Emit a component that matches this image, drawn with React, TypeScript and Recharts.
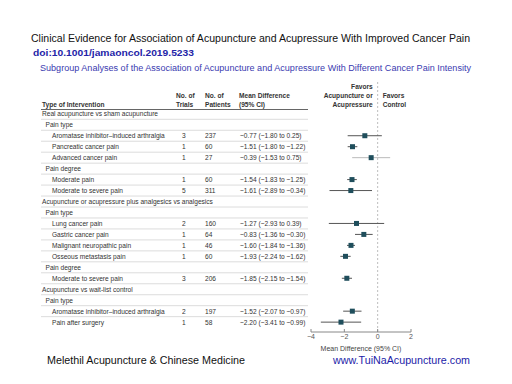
import React from 'react';
import { ScatterChart, Scatter, XAxis, YAxis, ErrorBar, ReferenceLine, Customized } from 'recharts';

const labels = [
  'Real acupuncture vs sham acupuncture',
  'Pain type',
  'Aromatase inhibitor–induced arthralgia',
  'Pancreatic cancer pain',
  'Advanced cancer pain',
  'Pain degree',
  'Moderate pain',
  'Moderate to severe pain',
  'Acupuncture or acupressure plus analgesics vs analgesics',
  'Pain type',
  'Lung cancer pain',
  'Gastric cancer pain',
  'Malignant neuropathic pain',
  'Osseous metastasis pain',
  'Pain degree',
  'Moderate to severe pain',
  'Acupuncture vs wait-list control',
  'Pain type',
  'Aromatase inhibitor–induced arthralgia',
  'Pain after surgery',
];
const levels = [0, 1, 2, 2, 2, 1, 2, 2, 0, 1, 2, 2, 2, 2, 1, 2, 0, 1, 2, 2];
const trials = [null, null, 3, 1, 1, null, 1, 5, null, null, 2, 1, 1, 1, null, 3, null, null, 2, 1];
const patients = [null, null, 237, 60, 27, null, 60, 311, null, null, 160, 64, 46, 60, null, 206, null, null, 197, 58];
const means = [null, null, -0.77, -1.51, -0.39, null, -1.54, -1.61, null, null, -1.27, -0.83, -1.6, -1.93, null, -1.85, null, null, -1.52, -2.2];
const lows = [null, null, -1.8, -1.8, -1.53, null, -1.83, -2.89, null, null, -2.93, -1.36, -1.84, -2.24, null, -2.15, null, null, -2.07, -3.41];
const highs = [null, null, 0.25, -1.22, 0.75, null, -1.25, -0.34, null, null, 0.39, -0.3, -1.36, -1.62, null, -1.54, null, null, -0.97, -0.99];
const lightRows = [4];
const xTicks = [-4, -2, 0, 2];

const FONT = 'Liberation Sans, Arial, sans-serif';
const fmt = (v: number) => (v < 0 ? '−' : '') + Math.abs(v).toFixed(2);

const rows = labels.map((_, i) => i);
const tableRows = rows.map((i) => ({ y: i, x: -4 }));
const points = rows
  .filter((i) => means[i] !== null)
  .map((i) => ({
    y: i,
    x: means[i] as number,
    err: [(means[i] as number) - (lows[i] as number), (highs[i] as number) - (means[i] as number)],
    light: lightRows.includes(i),
  }));
const darkPoints = points.filter((p) => !p.light);
const lightPoints = points.filter((p) => p.light);

const indents = [42, 45.5, 52];

const T = ({ x, y, children, weight, anchor, fill }: any) => (
  <g transform={`translate(${x},${y}) scale(0.88,1)`}>
    <text x={0} y={0} dy="0.35em" fontSize={7.5} fontFamily={FONT} fill={fill || '#333'} fontWeight={weight || 'normal'} textAnchor={anchor || 'start'}>
      {children}
    </text>
  </g>
);

const RowShape = (props: any) => {
  const y = props.cy;
  const i = props.payload.y as number;
  return (
    <g>
      {i < labels.length - 1 && <line x1={41} x2={308} y1={y + 5.5} y2={y + 5.5} stroke="#dcdcdc" strokeWidth={1} />}
      <T x={indents[levels[i]]} y={y}>{labels[i]}</T>
      {trials[i] !== null && <T x={182} y={y}>{String(trials[i])}</T>}
      {patients[i] !== null && <T x={205} y={y}>{String(patients[i])}</T>}
      {means[i] !== null && (
        <T x={240} y={y}>{`${fmt(means[i] as number)} (${fmt(lows[i] as number)} to ${fmt(highs[i] as number)})`}</T>
      )}
    </g>
  );
};

const XTick = (props: any) => {
  const { x, y, payload } = props;
  return (
    <g>
      <line x1={x} x2={x} y1={y - 3} y2={y} stroke="#888" />
      <text x={x} y={y + 7} fontSize={7} fontFamily={FONT} fill="#555" textAnchor="middle">
        {payload.value < 0 ? '−' + Math.abs(payload.value) : payload.value}
      </text>
    </g>
  );
};

const Square = (props: any) => (
  <rect x={props.cx - 2.5} y={props.cy - 2.5} width={5} height={5} fill="#1f4e5c" />
);
const Nothing = () => <g />;

const Titles = () => (
  <g fontFamily={FONT}>
    <text x={31} y={38.3} dy="0.35em" fontSize={10} fill="#111" textLength={439} lengthAdjust="spacingAndGlyphs">
      Clinical Evidence for Association  of Acupuncture and Acupressure With Improved Cancer Pain
    </text>
    <text x={33} y={52.3} dy="0.35em" fontSize={9.5} fontWeight="bold" fill="#2424a8" textLength={161} lengthAdjust="spacingAndGlyphs">
      doi:10.1001/jamaoncol.2019.5233
    </text>
    <text x={40} y={68.3} dy="0.35em" fontSize={8.3} fill="#3a3ab0" textLength={431} lengthAdjust="spacingAndGlyphs">
      Subgroup Analyses of the Association of Acupuncture and Acupressure With Different Cancer Pain Intensity
    </text>
    <text x={47} y={360} dy="0.35em" fontSize={10.5} fill="#111" textLength={198} lengthAdjust="spacingAndGlyphs">
      Melethil Acupuncture  &amp; Chinese Medicine
    </text>
    <text x={333} y={360} dy="0.35em" fontSize={10.5} fill="#1c1ca8" textLength={137} lengthAdjust="spacingAndGlyphs">
      www.TuiNaAcupuncture.com
    </text>
    <T x={42} y={104} weight="bold">Type of Intervention</T>
    <T x={176} y={95} weight="bold">No. of</T>
    <T x={176} y={104} weight="bold">Trials</T>
    <T x={205} y={95} weight="bold">No. of</T>
    <T x={205} y={104} weight="bold">Patients</T>
    <T x={239} y={95} weight="bold">Mean Difference</T>
    <T x={239} y={104} weight="bold">(95% CI)</T>
    <T x={372.7} y={86.7} weight="bold" anchor="end">Favors</T>
    <T x={372.7} y={95} weight="bold" anchor="end">Acupuncture or</T>
    <T x={372.7} y={104} weight="bold" anchor="end">Acupressure</T>
    <T x={382.7} y={95} weight="bold">Favors</T>
    <T x={382.7} y={104} weight="bold">Control</T>
    <line x1={41} x2={308} y1={109.5} y2={109.5} stroke="#666" strokeWidth={1} />
    <text x={361} y={349} dy="0.35em" fontSize={7} fontFamily={FONT} fill="#444" textAnchor="middle">
      Mean Difference (95% CI)
    </text>
  </g>
);

export default function App() {
  return (
    <div style={{ position: 'absolute', left: 0, top: 0, width: 512, height: 384, background: '#fff' }}>
      <ScatterChart width={512} height={384} margin={{ top: 82, right: 101, bottom: 32, left: 311 }}>
        <XAxis
          type="number"
          dataKey="x"
          domain={[-4, 2]}
          ticks={xTicks}
          height={20}
          tickSize={0}
          tickMargin={0}
          tickLine={false}
          axisLine={{ stroke: '#888' }}
          tick={<XTick />}
          interval={0}
        />
        <YAxis type="number" dataKey="y" domain={[-2.9, 19.9]} reversed hide />
        <ReferenceLine x={0} stroke="#bdbdbd" strokeDasharray="2 2" ifOverflow="visible" />
        <Scatter data={tableRows} shape={<RowShape />} isAnimationActive={false} />
        <Scatter data={lightPoints} shape={<Nothing />} isAnimationActive={false}>
          <ErrorBar dataKey="err" direction="x" width={0} stroke="#bbbbbb" strokeWidth={1} />
        </Scatter>
        <Scatter data={darkPoints} shape={<Nothing />} isAnimationActive={false}>
          <ErrorBar dataKey="err" direction="x" width={0} stroke="#555555" strokeWidth={1} />
        </Scatter>
        <Scatter data={points} shape={<Square />} isAnimationActive={false} />
        <Customized component={<Titles />} />
      </ScatterChart>
    </div>
  );
}
